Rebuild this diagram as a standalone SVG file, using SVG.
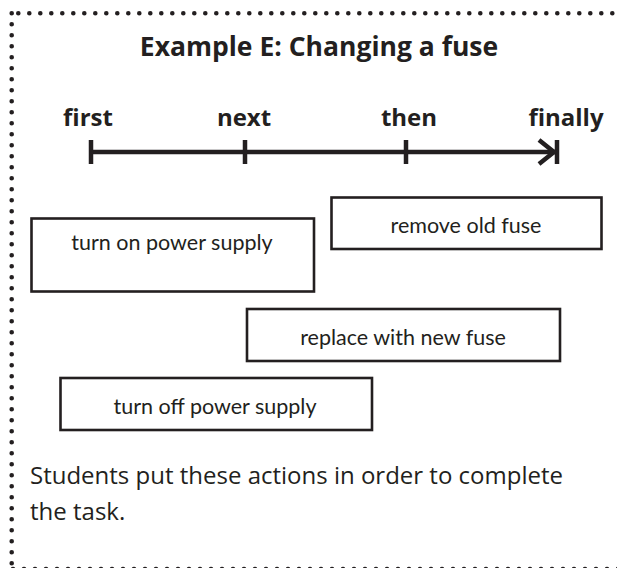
<svg xmlns="http://www.w3.org/2000/svg" width="617" height="568" viewBox="0 0 617 568">
<style>
.dots{stroke:#231f20;stroke-width:4.6;stroke-linecap:round;stroke-dasharray:0 11;fill:none}
.head{font-family:"Open Sans","Noto Sans",sans-serif;font-weight:700;font-size:26.5px;fill:#231f20;text-anchor:middle}
.lbl{font-family:"Open Sans","Noto Sans",sans-serif;font-weight:700;font-size:24px;fill:#231f20;text-anchor:middle}
.card rect{fill:#fff;stroke:#231f20;stroke-width:2.6}
.card text{font-family:Lato,"DejaVu Sans",sans-serif;font-weight:400;font-size:21.5px;fill:#231f20;text-anchor:middle}
.body{font-family:"Open Sans","Noto Sans",sans-serif;font-size:24px;fill:#231f20}
.tl{stroke:#231f20;stroke-width:4.5;fill:none}
</style>
<rect width="617" height="568" fill="#fff"/>
<g id="border">
<line class="dots" x1="18.3" y1="13.3" x2="620" y2="13.3"/>
<line class="dots" x1="11.7" y1="13.3" x2="11.7" y2="575"/>
<line class="dots" x1="13" y1="569" x2="620" y2="569"/>
</g>
<text class="head" x="319" y="56">Example E: Changing a fuse</text>
<g id="timeline">
<text class="lbl" x="88" y="126">first</text>
<text class="lbl" x="244" y="126">next</text>
<text class="lbl" x="409" y="126">then</text>
<text class="lbl" x="566" y="126">finally</text>
<g id="connectors">
<line class="tl" x1="91" y1="152" x2="555" y2="152"/>
<line class="tl" x1="91" y1="140" x2="91" y2="164"/>
<line class="tl" x1="245" y1="140" x2="245" y2="164"/>
<line class="tl" x1="406" y1="140" x2="406" y2="164"/>
<line class="tl" x1="557" y1="140" x2="557" y2="164"/>
<polyline class="tl" points="539,140 554,152 539,164"/>
</g>
</g>
<g id="card-turn-on" class="card">
<rect x="31.5" y="218.5" width="282.5" height="73"/>
<text x="172" y="250">turn on power supply</text>
</g>
<g id="card-remove" class="card">
<rect x="331.5" y="197.5" width="270" height="51.5"/>
<text x="466" y="233">remove old fuse</text>
</g>
<g id="card-replace" class="card">
<rect x="247" y="309" width="313" height="52"/>
<text x="403" y="345">replace with new fuse</text>
</g>
<g id="card-turn-off" class="card">
<rect x="60.5" y="378" width="311.5" height="52"/>
<text x="215" y="414">turn off power supply</text>
</g>
<text class="body" x="30" y="484">Students put these actions in order to complete</text>
<text class="body" x="30" y="520">the task.</text>
</svg>
